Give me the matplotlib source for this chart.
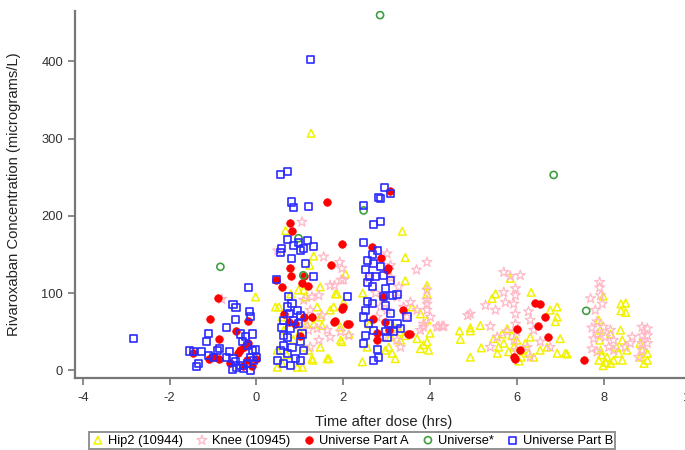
#! /usr/bin/env python3

"""
Scatter plot of rivaroxaban plasma concentration against time after dose
for the Hip2, Knee and Universe study groups.
"""

import matplotlib
matplotlib.use("Agg")
import matplotlib.pyplot as plt

plt.rcParams["font.family"] = ["Liberation Sans", "DejaVu Sans"]

# Hip2 (10944)
hip_x = [-0.02, 0.44, 0.67, 1.32, 1.23, 1.47, 1.86, 1.7, 2.01, 1.94, 1.97, 1.63,
         1.28, 1.47, 1.4, 1.47, 1.32, 1.13, 0.97, 1.51, 0.48, 0.48, 0.63, 1.2,
         0.94, 1.26, 3.36, 3.43, 3.43, 3.93, 3.93, 1.82, 2.05, 1.78, 3.59, 3.78,
         3.93, 2.13, 1.94, 3.16, 3.09, 3.32, 2.97, 3.13, 3.78, 3.93, 3.97, 3.7,
         3.43, 2.44, 0.52, 0.59, 0.79, 1.09, 1.09, 1.3, 1.67, 1.06, 0.59, 3.05,
         3.2, 3.3, 2.55, 2.6, 2.45, 1.0, 0.85, 1.15, 0.7, 4.0, 3.85,
         5.85, 6.33, 5.51, 5.43, 6.93, 6.77, 6.89, 5.16, 4.93, 4.93, 4.68, 4.7,
         5.18, 4.93, 5.55, 5.78, 5.66, 5.89, 6.0, 5.7, 5.93, 5.81, 6.12, 6.27,
         6.39, 6.54, 6.7, 6.2, 6.31, 5.47, 5.58, 6.93, 7.12, 6.93, 6.05, 6.1,
         7.99, 8.4, 8.4, 7.0, 7.16, 7.89, 7.93, 7.91, 7.93, 7.89, 7.99, 8.08,
         8.16, 8.23, 8.35, 8.43, 8.39, 8.43, 8.54, 8.85, 8.89, 8.93, 8.51, 8.51,
         9.01, 9.01, 8.84, 8.16, 7.95, 8.05, 8.3]
hip_y = [95, 82, 181, 148, 136, 108, 99, 78, 88, 56, 37, 15,
         15, 30, 82, 69, 60, 95, 104, 58, 26, 4, 52, 26,
         4, 307, 180, 146, 116, 110, 99, 99, 125, 82, 82, 73,
         65, 47, 39, 56, 43, 39, 26, 22, 28, 37, 26, 41,
         45, 11, 82, 69, 99, 104, 30, 13, 15, 4, 9, 30,
         15, 50, 30, 60, 100, 50, 40, 60, 20, 48, 33,
         119, 101, 99, 93, 82, 78, 63, 58, 55, 51, 51, 40,
         29, 17, 22, 54, 47, 45, 39, 35, 30, 24, 26, 22,
         17, 26, 30, 35, 43, 41, 30, 22, 22, 69, 12, 17,
         96, 86, 77, 41, 21, 65, 52, 39, 26, 13, 6, 17,
         9, 13, 22, 39, 52, 13, 26, 17, 26, 9, 87, 75,
         22, 13, 35, 47, 20, 10, 30]

# Knee (10945)
knee_x = [-0.8, 0.49, 1.05, 1.55, 1.92, 1.97, 1.7, 1.95, 1.28, 1.44, 1.09, 1.24,
          1.51, 1.4, 1.63, 1.2, 1.44, 1.24, 1.09, 1.7, 1.94, 2.13, 2.01, 1.8,
          2.6, 2.75, 3.1, 3.93, 3.69, 3.01, 3.09, 3.28, 3.24, 3.01, 3.39, 3.55,
          3.7, 3.85, 4.01, 4.16, 3.93, 2.86, 2.78, 3.2, 3.47, 3.78, 2.93, 3.24,
          3.32, 3.93, 3.93, 3.93, 3.85, 4.2, 4.28,
          5.7, 6.08, 5.85, 5.97, 5.97, 5.93, 5.97, 5.97, 6.0, 5.94, 6.0, 5.7,
          5.74, 5.28, 5.51, 4.93, 4.32, 6.27, 6.31, 5.39, 5.55, 5.78, 6.39, 6.54,
          6.24, 6.77, 6.31, 5.39, 4.87,
          7.91, 7.91, 7.7, 7.93, 7.97, 7.81, 7.85, 7.73, 7.86, 7.77, 7.73, 7.85,
          8.0, 8.04, 8.16, 8.23, 8.12, 8.66, 8.62, 8.89, 8.89, 8.89, 8.89, 8.81,
          8.5, 8.23, 9.01, 9.01, 9.01]
knee_y = [92, 155, 192, 147, 140, 132, 110, 117, 95, 97, 91, 78,
          71, 54, 52, 52, 39, 30, 60, 43, 50, 45, 117, 110,
          120, 100, 120, 140, 130, 151, 136, 108, 95, 78, 82, 88,
          78, 60, 69, 56, 86, 82, 69, 52, 69, 52, 43, 39,
          30, 104, 91, 78, 56, 57, 57,
          127, 123, 122, 106, 97, 86, 73, 60, 50, 39, 26, 101,
          88, 84, 78, 73, 57, 76, 65, 57, 43, 50, 52, 37,
          30, 30, 17, 30, 71,
          114, 107, 93, 97, 86, 78, 63, 55, 47, 41, 28, 24,
          56, 43, 52, 39, 30, 43, 35, 56, 45, 35, 26, 17,
          30, 26, 54, 45, 35]

# Universe Part A
part_a_x = [-0.88, -1.08, -0.2, -0.46, -0.87, -1.46, -0.43, -0.37, -0.29, -0.2,
            -0.98, -0.87, -0.21, -0.02, -0.31, -0.1, -1.1, -0.6,
            1.63, 0.78, 0.82, 1.97, 1.71, 0.78, 0.8, 0.59, 1.05, 1.2, 0.46, 1.09,
            1.28, 0.63, 0.74, 0.9, 1.09, 1.78, 2.09, 1.97, 1.01,
            3.07, 2.67, 2.87, 3.03, 3.0, 2.0, 1.8, 2.13, 2.69, 3.38, 2.92, 2.97,
            3.05, 2.78, 2.78, 3.49, 3.55,
            6.43, 6.54, 6.66, 6.0, 6.5, 6.71, 6.08, 5.94, 5.97, 7.54]
part_a_y = [94, 66, 64, 51, 40, 22, 22, 26, 30, 35,
            17, 15, 13, 15, 6, 6, 14, 10,
            218, 191, 181, 163, 137, 132, 122, 108, 113, 109, 117, 122,
            69, 73, 63, 60, 69, 63, 60, 79, 45,
            232, 160, 145, 132, 130, 82, 64, 60, 67, 78, 95, 63,
            52, 48, 39, 47, 47,
            87, 86, 69, 54, 57, 43, 26, 17, 14, 13]

# Universe*
univ_x = [2.85, -0.83, 6.85, 7.6, 2.47, 0.97, 1.08]
univ_y = [460, 134, 253, 77, 207, 171, 123]

# Universe Part B
part_b_x = [-2.83, 1.25,
            -0.19, -0.54, -0.47, -0.15, -0.14, -0.48, -0.68, -0.08, -0.37, -0.25,
            -1.1, -1.15, -0.85, -0.9, -1.54, -1.46, -1.27, -1.1, -0.98, -1.33,
            -1.37, -0.69, -0.61, -0.54, -0.48, -0.56, -0.45, -0.33, -0.21, -0.1,
            -0.02, -0.14, -0.06, -0.21, -0.29, -0.14, -0.37, 0.0,
            0.55, 0.71, 0.8, 0.85, 1.2, 0.72, 0.86, 1.01, 0.97, 1.17, 1.31, 1.09,
            0.57, 0.55, 0.8, 1.13, 1.31, 0.46, 2.09, 0.74, 0.82, 0.71, 0.94, 0.77,
            1.01, 0.63, 0.86, 0.97, 0.59, 0.78, 0.63, 1.05, 0.71, 1.01, 0.63, 0.82,
            1.09, 0.55, 0.71, 0.9, 0.48, 0.78, 1.01, 0.63,
            2.95, 3.09, 2.82, 2.87, 2.47, 2.7, 2.86, 2.47, 2.67, 2.78, 2.55, 2.69,
            2.86, 2.51, 2.61, 2.74, 2.93, 2.55, 2.67, 3.09, 2.97, 3.13, 3.24, 2.93,
            2.55, 2.67, 2.97, 3.09, 3.05, 3.47, 3.24, 3.32, 3.16, 2.51, 2.47, 2.59,
            2.7, 2.51, 2.47, 3.01, 2.78, 2.82, 2.69, 2.97]
part_b_y = [41, 403,
            107, 85, 81, 76, 70, 66, 55, 47, 47, 44,
            48, 37, 28, 26, 25, 24, 24, 19, 17, 9,
            5, 17, 24, 15, 11, 1, 4, 37, 32, 26,
            27, 17, 13, 9, 2, 0, 6, 16,
            253, 258, 218, 211, 212, 169, 162, 155, 166, 168, 160, 158,
            158, 153, 145, 138, 122, 117, 95, 95, 86, 82, 78, 73,
            71, 65, 65, 60, 56, 54, 45, 47, 43, 37, 32, 30,
            26, 26, 22, 15, 13, 6, 13, 9,
            237, 229, 224, 222, 214, 189, 193, 166, 150, 155, 142, 138,
            134, 130, 122, 121, 123, 114, 109, 116, 106, 97, 98, 95,
            89, 86, 84, 73, 60, 69, 60, 54, 50, 78, 69, 60,
            52, 45, 35, 43, 27, 17, 13, 50]

x_ticks = [-4, -2, 0, 2, 4, 6, 8, 10]
y_ticks = [0, 100, 200, 300, 400]

fig = plt.figure(figsize=(6.85, 4.5), dpi=100)
# the axes run past the right edge of the figure
ax = fig.add_axes([0.1095, 0.16, 0.911, 0.815])

ax.scatter(hip_x, hip_y, marker="^", s=30, facecolors="none",
           edgecolors="#f2f200", linewidths=1.1, label="Hip2 (10944)")
ax.scatter(knee_x, knee_y, marker="*", s=55, facecolors="none",
           edgecolors="#ffb8c6", linewidths=0.9, label="Knee (10945)")
ax.scatter(part_a_x, part_a_y, marker="o", s=30, color="#ff0000",
           edgecolors="#ff0000", linewidths=0.5, label="Universe Part A")
ax.scatter(univ_x, univ_y, marker="o", s=26, facecolors="none",
           edgecolors="#3f9f3f", linewidths=1.2, label="Universe*")
ax.scatter(part_b_x, part_b_y, marker="s", s=26, facecolors="none",
           edgecolors="#2b2bff", linewidths=1.2, label="Universe Part B")

ax.set_xlim(-4.18, 10.2)
ax.set_ylim(-10, 465)
ax.set_xticks(x_ticks)
ax.set_yticks(y_ticks)
ax.set_xticklabels([str(t) for t in x_ticks])

for side in ["top", "right"]:
    ax.spines[side].set_visible(False)
for side in ["left", "bottom"]:
    ax.spines[side].set_color("#777777")
    ax.spines[side].set_linewidth(1.6)
ax.tick_params(axis="both", direction="out", length=5, width=1.2,
               color="#777777", labelcolor="#333333", labelsize=9.3)
ax.tick_params(axis="x", pad=5)

ax.set_xlabel("Time after dose (hrs)", fontsize=10.6, color="#222222")
ax.xaxis.set_label_coords(0.495, -0.1)
ax.set_ylabel("Rivaroxaban Concentration (micrograms/L)", fontsize=10.6,
              color="#222222")
ax.yaxis.set_label_coords(-0.087, 0.5)

leg = fig.legend(loc="center", bbox_to_anchor=(0.514, 0.021), ncol=5,
                 fontsize=9.3, frameon=True, fancybox=False, scatterpoints=1,
                 handletextpad=0.25, columnspacing=1.0, borderpad=0.2,
                 handlelength=1.0)
leg.get_frame().set_edgecolor("#777777")
leg.get_frame().set_linewidth(1.4)

fig.savefig("out.png", dpi=100)
